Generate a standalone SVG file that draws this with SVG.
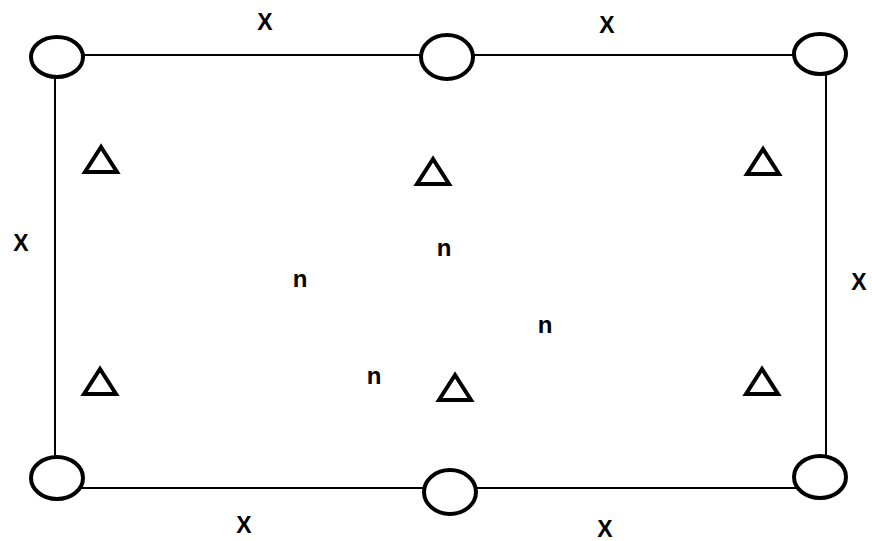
<svg xmlns="http://www.w3.org/2000/svg" width="872" height="541" viewBox="0 0 872 541">
<style>
.node{fill:#fff;stroke:#000;stroke-width:4}
.tri{fill:none;stroke:#000;stroke-width:4;stroke-linejoin:miter}
.edge{stroke:#000;stroke-width:2;fill:none}
.lx{font-family:"Liberation Sans",Arial,sans-serif;font-weight:bold;font-size:23px;text-anchor:middle;fill:#000}
.ln{font-family:"Liberation Sans",Arial,sans-serif;font-weight:bold;font-size:24px;text-anchor:middle;fill:#000}
</style>
<defs>
<path id="tri" class="tri" d="M0,-12 L-16,13 L16,13 Z"/>
</defs>
<rect width="872" height="541" fill="#fff"/>
<g id="connectors">
<line class="edge" x1="57" y1="55" x2="447" y2="55"/>
<line class="edge" x1="447" y1="55" x2="820" y2="55"/>
<line class="edge" x1="55" y1="57" x2="55" y2="478"/>
<line class="edge" x1="826" y1="54" x2="826" y2="477"/>
<line class="edge" x1="57" y1="488" x2="450" y2="488"/>
<line class="edge" x1="450" y1="488" x2="820" y2="488"/>
</g>
<g id="c1"><ellipse class="node" cx="57" cy="57" rx="26" ry="20"/></g>
<g id="c2"><ellipse class="node" cx="447" cy="57" rx="26" ry="22"/></g>
<g id="c3"><ellipse class="node" cx="820" cy="54" rx="26" ry="20"/></g>
<g id="c4"><ellipse class="node" cx="57" cy="478" rx="26" ry="21"/></g>
<g id="c5"><ellipse class="node" cx="450" cy="492" rx="26" ry="22"/></g>
<g id="c6"><ellipse class="node" cx="820" cy="477" rx="26" ry="21"/></g>
<g id="t1"><use href="#tri" x="101" y="159"/></g>
<g id="t2"><use href="#tri" x="433" y="171"/></g>
<g id="t3"><use href="#tri" x="763" y="161"/></g>
<g id="t4"><use href="#tri" x="100" y="381"/></g>
<g id="t5"><use href="#tri" x="455" y="387"/></g>
<g id="t6"><use href="#tri" x="762" y="381"/></g>
<g id="labels">
<text class="lx" x="265" y="30">X</text>
<text class="lx" x="607" y="33">X</text>
<text class="lx" x="21" y="251">X</text>
<text class="lx" x="859" y="290">X</text>
<text class="lx" x="244" y="533">X</text>
<text class="lx" x="605" y="537">X</text>
<text class="ln" x="300" y="287">n</text>
<text class="ln" x="444" y="256">n</text>
<text class="ln" x="545" y="333">n</text>
<text class="ln" x="374" y="384">n</text>
</g>
</svg>
